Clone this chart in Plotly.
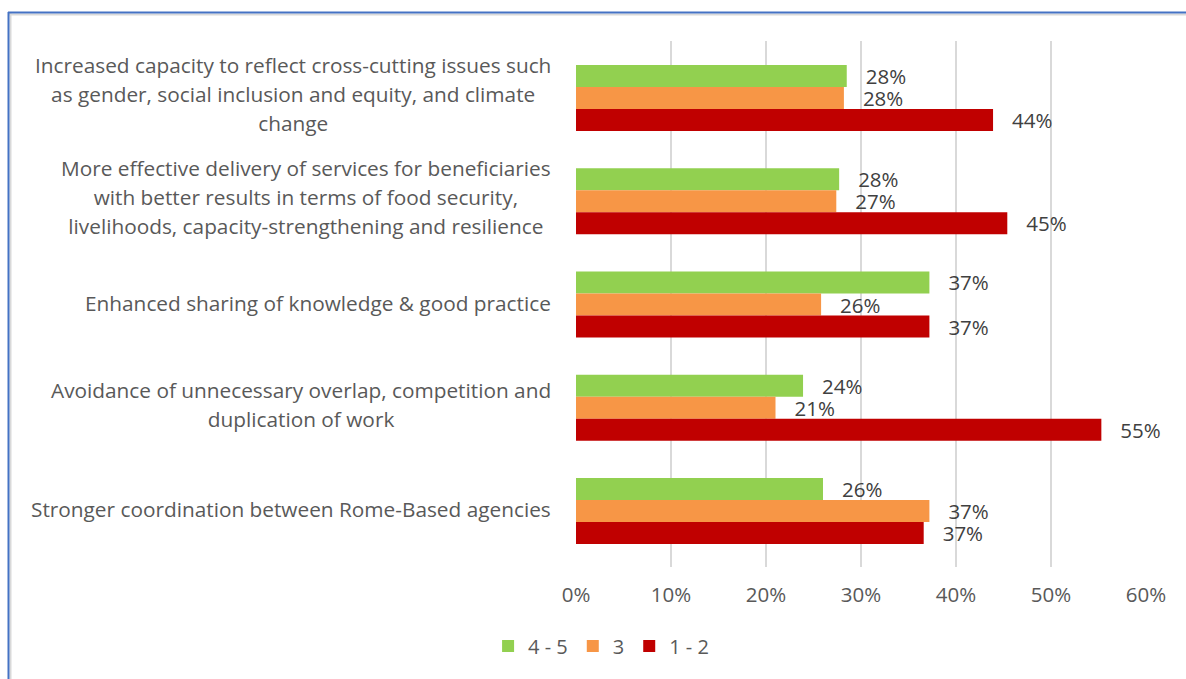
import plotly.graph_objects as go

categories = [
    "Increased capacity to reflect cross-cutting issues such<br>as gender, social inclusion and equity, and climate<br>change",
    "More effective delivery of services for beneficiaries<br>with better results in terms of food security,<br>livelihoods, capacity-strengthening and resilience",
    "Enhanced sharing of knowledge & good practice",
    "Avoidance of unnecessary overlap, competition and<br>duplication of work",
    "Stronger coordination between Rome-Based agencies",
]
series_names = ["4 - 5", "3", "1 - 2"]
vals_45 = [0.285, 0.277, 0.372, 0.239, 0.260]
vals_3 = [0.282, 0.274, 0.258, 0.210, 0.372]
vals_12 = [0.439, 0.454, 0.372, 0.553, 0.366]
colors = ["#92D050", "#F79646", "#C00000"]
x_ticks = [0, 0.1, 0.2, 0.3, 0.4, 0.5, 0.6]
x_tick_labels = ["0%", "10%", "20%", "30%", "40%", "50%", "60%"]

FONT = "Open Sans"
W, H = 1186, 679
L, R, T, B = 576, 40, 41, 112
pw, ph = W - L - R, H - T - B

idx = list(range(len(categories)))
fig = go.Figure()
for name, vals, col in zip(series_names, [vals_45, vals_3, vals_12], colors):
    fig.add_trace(go.Bar(
        y=idx, x=vals, name=name, orientation="h",
        marker=dict(color=col, line=dict(width=0)),
        text=["\u00a0\u00a0\u00a0" + f"{round(v*100):.0f}%" for v in vals],
        textposition="outside", constraintext="none", cliponaxis=False,
        textfont=dict(family=FONT, size=20.5, color="#404040"),
        hoverinfo="skip",
    ))

# category labels as centered multi-line annotations
for i, cat in enumerate(categories):
    lines = cat.split("<br>")
    txt = "<br>".join(f"<span style='font-size:20.8px'>{ln}</span>" for ln in lines)
    fig.add_annotation(
        x=(553 - L) / pw, xref="paper", y=i, yref="y",
        text=txt, showarrow=False, xanchor="right", yanchor="middle",
        align="center", yshift=2 + (len(lines) - 1),
        font=dict(family=FONT, size=22.3, color="#595959"),
    )

# chart border (top and left edges visible)
def px_x(v):
    return (v - L) / pw

def px_y(v):
    return (H - B - v) / ph

fig.add_shape(type="line", xref="paper", yref="paper",
              x0=px_x(9), x1=px_x(1200), y0=px_y(14.5), y1=px_y(14.5),
              line=dict(color="#D9D9D9", width=2))
fig.add_shape(type="line", xref="paper", yref="paper",
              x0=px_x(10.5), x1=px_x(10.5), y0=px_y(13), y1=px_y(700),
              line=dict(color="#D9D9D9", width=2))
fig.add_shape(type="line", xref="paper", yref="paper",
              x0=px_x(8), x1=px_x(1200), y0=px_y(12.5), y1=px_y(12.5),
              line=dict(color="#4472C4", width=2))
fig.add_shape(type="line", xref="paper", yref="paper",
              x0=px_x(8.5), x1=px_x(8.5), y0=px_y(12), y1=px_y(700),
              line=dict(color="#4472C4", width=2))

fig.update_layout(
    width=W, height=H,
    margin=dict(l=L, r=R, t=T, b=B, autoexpand=False),
    paper_bgcolor="white", plot_bgcolor="white",
    barmode="group", bargap=0.36, bargroupgap=0,
    showlegend=True,
    legend=dict(orientation="h", x=0.044, xanchor="center", y=px_y(646), yanchor="middle",
                font=dict(family=FONT, size=20, color="#595959"),
                traceorder="normal", itemwidth=30),
    xaxis=dict(range=[0, 0.6], tickvals=x_ticks, ticktext=x_tick_labels,
               showgrid=True, gridcolor="#D9D9D9", gridwidth=2,
               zeroline=False, showline=False, ticks="",
               tickfont=dict(family=FONT, size=20.5, color="#595959"),
               ticklabelstandoff=13),
    yaxis=dict(range=[4 + (567 - 511) / 103.25, -(98 - 41) / 103.25],
               showticklabels=False, showgrid=False, zeroline=False,
               showline=False, ticks=""),
    font=dict(family=FONT),
)

fig.write_html("out.html")
